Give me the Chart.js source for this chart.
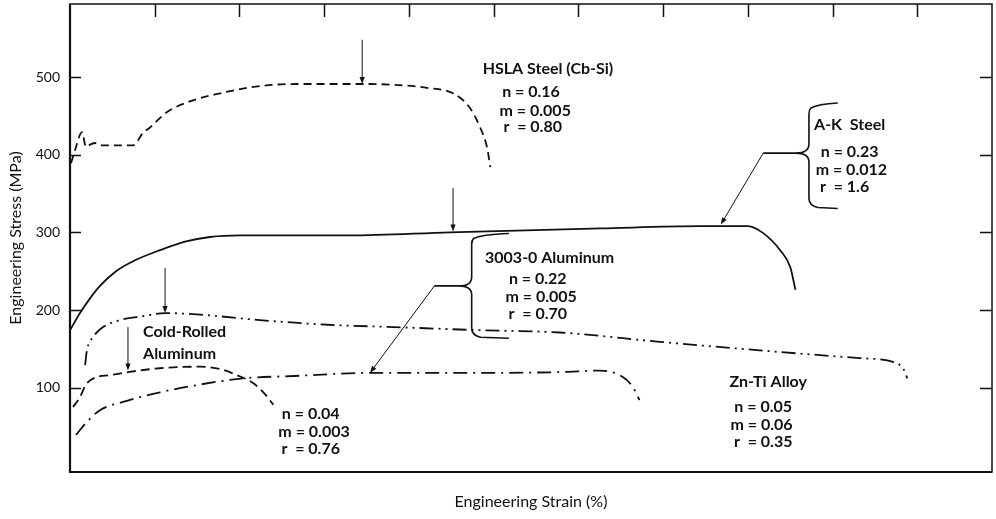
<!DOCTYPE html>
<html lang="en">
<head>
<meta charset="UTF-8">
<title>Engineering Stress vs Engineering Strain</title>
<script src="https://cdn.jsdelivr.net/npm/chart.js@4.4.0/dist/chart.umd.min.js"></script>
<style>
    html, body { margin: 0; padding: 0; background: #fff; }
    #wrap { width: 996px; height: 519px; }
</style>
</head>
<body>
<div id="wrap"><canvas id="ssChart" width="996" height="519"></canvas></div>
<script>
    // values: strain in %, stress in MPa
    const hslaStrain = [0.06, 0.3, 0.71, 0.94, 1.2, 1.48, 1.77, 3.72, 4.31, 4.72, 5.73, 7.26, 8.85, 10.45, 11.98, 13.58, 17.24, 19.07, 21.07, 22.6, 23.6, 24.2, 24.6, 24.8];
    const hslaStress = [389, 406, 429, 410, 413, 415, 412, 412, 428, 435, 455, 470, 479, 486, 490, 491, 491, 490, 486, 479, 460, 435, 410, 384];

    const akStrain = [0, 0.59, 1.18, 1.77, 2.66, 3.84, 5.31, 6.79, 8.26, 10.04, 16.5, 22.4, 31.3, 37.2, 40.0, 40.9, 41.9, 42.5, 42.8];
    const akStress = [174, 196, 215, 231, 249, 264, 277, 288, 294, 296, 296, 300, 305, 308, 308, 299, 277, 255, 226];

    const znTiStrain = [0.89, 1.0, 1.36, 1.95, 2.95, 4.31, 5.61, 7.67, 11.2, 15.2, 19.1, 24.2, 28.9, 34.8, 40.7, 46.6, 48.6, 49.2, 49.4];
    const znTiStress = [129, 148, 165, 178, 187, 192, 196, 194, 187, 181, 178, 174, 171, 159, 148, 138, 133, 123, 112];

    const coldStrain = [0.18, 0.59, 0.94, 1.48, 2.36, 3.42, 5.31, 7.67, 8.85, 9.86, 10.8, 11.45, 12.0];
    const coldStress = [75, 88, 104, 113, 116, 120, 125, 127, 124, 116, 106, 93, 78];

    const al3003Strain = [0.35, 1.0, 1.77, 3.36, 5.31, 7.67, 10.2, 13.2, 17.7, 22.4, 28.9, 31.3, 32.6, 33.2, 33.6];
    const al3003Stress = [39, 56, 71, 83, 94, 104, 112, 115, 119, 119, 120, 122, 114, 101, 84];

    const yTicks = [100, 200, 300, 400, 500];
    const xTicks = [5, 10, 15, 20, 25, 30, 35, 40, 45, 50];

    // labels with the work-hardening (n), rate-sensitivity (m) and anisotropy (r) values
    const notes = [
        { x: 28.2, y: 511, text: 'HSLA Steel (Cb-Si)', align: 'center' },
        { x: 27.2, y: 481, text: 'n = 0.16', align: 'center' },
        { x: 27.45, y: 457, text: 'm = 0.005', align: 'center' },
        { x: 27.3, y: 436, text: 'r  = 0.80', align: 'center' },
        { x: 46.0, y: 438, text: 'A-K  Steel', align: 'center' },
        { x: 46.0, y: 403, text: 'n = 0.23', align: 'center' },
        { x: 46.1, y: 381, text: 'm = 0.012', align: 'center' },
        { x: 45.7, y: 358, text: 'r  = 1.6', align: 'center' },
        { x: 28.3, y: 267, text: '3003-0 Aluminum', align: 'center' },
        { x: 27.6, y: 240, text: 'n = 0.22', align: 'center' },
        { x: 27.8, y: 217, text: 'm = 0.005', align: 'center' },
        { x: 27.6, y: 195, text: 'r  = 0.70', align: 'center' },
        { x: 4.31, y: 172, text: 'Cold-Rolled', align: 'left' },
        { x: 4.31, y: 143, text: 'Aluminum', align: 'left' },
        { x: 14.2, y: 66, text: 'n = 0.04', align: 'center' },
        { x: 14.4, y: 43, text: 'm = 0.003', align: 'center' },
        { x: 14.2, y: 21, text: 'r  = 0.76', align: 'center' },
        { x: 41.2, y: 108, text: 'Zn-Ti Alloy', align: 'center' },
        { x: 40.9, y: 75, text: 'n = 0.05', align: 'center' },
        { x: 40.8, y: 52, text: 'm = 0.06', align: 'center' },
        { x: 40.9, y: 30, text: 'r  = 0.35', align: 'center' }
    ];

    // arrows: [fromX, fromY, toX, toY]
    const arrows = [
        [17.24, 548, 17.24, 491],
        [22.6, 357, 22.6, 301],
        [5.61, 254, 5.61, 196],
        [3.42, 178, 3.42, 122],
        [40.9, 402, 38.4, 310],
        [21.5, 231, 17.7, 119]
    ];

    // braces: vertical x, right end x, tip x, top y, middle y, bottom y
    const braces = [
        [43.6, 45.3, 40.9, 464, 402, 332],
        [23.7, 25.9, 21.5, 296, 231, 165]
    ];

    const ink = '#111';
    const fontFamily = "Lato, 'Open Sans', sans-serif";

    function toPoints(xs, ys) {
        return xs.map((x, i) => ({ x: x, y: ys[i] }));
    }

    function curve(label, xs, ys, dash) {
        return {
            label: label,
            data: toPoints(xs, ys),
            borderColor: ink,
            borderWidth: 1.8,
            borderDash: dash,
            pointRadius: 0,
            fill: false,
            cubicInterpolationMode: 'monotone'
        };
    }

    function drawArrow(ctx, x1, y1, x2, y2) {
        const a = Math.atan2(y2 - y1, x2 - x1);
        const h = 7, w = 2.6;
        ctx.beginPath();
        ctx.moveTo(x1, y1);
        ctx.lineTo(x2 - h * 0.7 * Math.cos(a), y2 - h * 0.7 * Math.sin(a));
        ctx.stroke();
        ctx.beginPath();
        ctx.moveTo(x2, y2);
        ctx.lineTo(x2 - h * Math.cos(a) + w * Math.sin(a), y2 - h * Math.sin(a) - w * Math.cos(a));
        ctx.lineTo(x2 - h * Math.cos(a) - w * Math.sin(a), y2 - h * Math.sin(a) + w * Math.cos(a));
        ctx.closePath();
        ctx.fill();
    }

    function drawBrace(ctx, xv, xr, xc, yt, ym, yb) {
        const r = 9;
        ctx.beginPath();
        ctx.moveTo(xr, yt - 2);
        ctx.quadraticCurveTo(xv + r, yt - 1, xv + 2, yt + 3);
        ctx.quadraticCurveTo(xv, yt + 5, xv, yt + r);
        ctx.lineTo(xv, ym - r);
        ctx.quadraticCurveTo(xv, ym, xv - r - 4, ym);
        ctx.lineTo(xc, ym);
        ctx.moveTo(xv - r - 4, ym);
        ctx.quadraticCurveTo(xv, ym, xv, ym + r);
        ctx.lineTo(xv, yb - r);
        ctx.quadraticCurveTo(xv, yb - 2, xv + r, yb);
        ctx.lineTo(xr, yb + 1);
        ctx.stroke();
    }

    const decor = {
        id: 'decor',
        afterDatasetsDraw(chart) {
            const ctx = chart.ctx;
            const xs = chart.scales.x, ys = chart.scales.y;
            const area = chart.chartArea;
            ctx.save();
            ctx.strokeStyle = ink;
            ctx.fillStyle = ink;

            // frame
            ctx.lineWidth = 1.5;
            ctx.strokeRect(area.left, area.top, area.right - area.left, area.bottom - area.top);
            ctx.lineWidth = 2.2;
            ctx.beginPath();
            ctx.moveTo(area.left, area.top);
            ctx.lineTo(area.left, area.bottom);
            ctx.lineTo(area.right, area.bottom);
            ctx.stroke();

            // inward ticks
            ctx.lineWidth = 1.5;
            ctx.beginPath();
            xTicks.forEach(v => {
                const px = Math.round(xs.getPixelForValue(v)) + 0.5;
                ctx.moveTo(px, area.top);
                ctx.lineTo(px, area.top + 13);
            });
            yTicks.forEach(v => {
                const py = Math.round(ys.getPixelForValue(v)) + 0.5;
                ctx.moveTo(area.left, py);
                ctx.lineTo(area.left + 11, py);
                ctx.moveTo(area.right, py);
                ctx.lineTo(area.right - 12, py);
            });
            ctx.stroke();

            // arrows
            ctx.lineWidth = 1;
            arrows.forEach(a => {
                drawArrow(ctx, xs.getPixelForValue(a[0]), ys.getPixelForValue(a[1]),
                    xs.getPixelForValue(a[2]), ys.getPixelForValue(a[3]));
            });

            // braces
            ctx.lineWidth = 1.6;
            braces.forEach(b => {
                drawBrace(ctx, xs.getPixelForValue(b[0]), xs.getPixelForValue(b[1]), xs.getPixelForValue(b[2]),
                    ys.getPixelForValue(b[3]), ys.getPixelForValue(b[4]), ys.getPixelForValue(b[5]));
            });

            // notes
            ctx.font = 'bold 16px ' + fontFamily;
            ctx.textBaseline = 'middle';
            notes.forEach(n => {
                ctx.textAlign = n.align;
                ctx.fillText(n.text, xs.getPixelForValue(n.x), ys.getPixelForValue(n.y));
            });
            ctx.restore();
        }
    };

    const ctx = document.getElementById('ssChart').getContext('2d');
    const ssChart = new Chart(ctx, {
        type: 'line',
        data: {
            datasets: [
                curve('HSLA Steel (Cb-Si)', hslaStrain, hslaStress, [8, 5]),
                curve('A-K Steel', akStrain, akStress, []),
                curve('Zn-Ti Alloy', znTiStrain, znTiStress, [14, 5, 2, 5, 2, 5]),
                curve('Cold-Rolled Aluminum', coldStrain, coldStress, [9, 5]),
                curve('3003-0 Aluminum', al3003Strain, al3003Stress, [14, 6, 2, 6])
            ]
        },
        options: {
            responsive: false,
            animation: false,
            devicePixelRatio: 1,
            layout: { padding: { top: 4, right: 4, left: 0, bottom: 0 } },
            plugins: {
                legend: { display: false },
                tooltip: { enabled: false }
            },
            scales: {
                x: {
                    type: 'linear',
                    min: 0,
                    max: 54.4,
                    grid: { display: false },
                    border: { display: false },
                    ticks: { display: false },
                    title: {
                        display: true,
                        text: 'Engineering Strain (%)',
                        color: ink,
                        font: { size: 16, family: fontFamily },
                        padding: { top: 0, bottom: 8 }
                    },
                    afterFit: s => { s.height = 47; s.paddingLeft = 0; s.paddingRight = 0; }
                },
                y: {
                    type: 'linear',
                    min: -8.6,
                    max: 594,
                    grid: { display: false, drawTicks: false },
                    border: { display: false },
                    ticks: {
                        color: ink,
                        padding: 10,
                        font: { size: 14, family: fontFamily }
                    },
                    afterBuildTicks: s => { s.ticks = yTicks.map(v => ({ value: v })); },
                    title: {
                        display: true,
                        text: 'Engineering Stress (MPa)',
                        color: ink,
                        font: { size: 16, family: fontFamily },
                        padding: { top: 6, bottom: 0 }
                    },
                    afterFit: s => { s.width = 70; s.paddingTop = 0; s.paddingBottom = 0; }
                }
            }
        },
        plugins: [decor]
    });
</script>
</body>
</html>
